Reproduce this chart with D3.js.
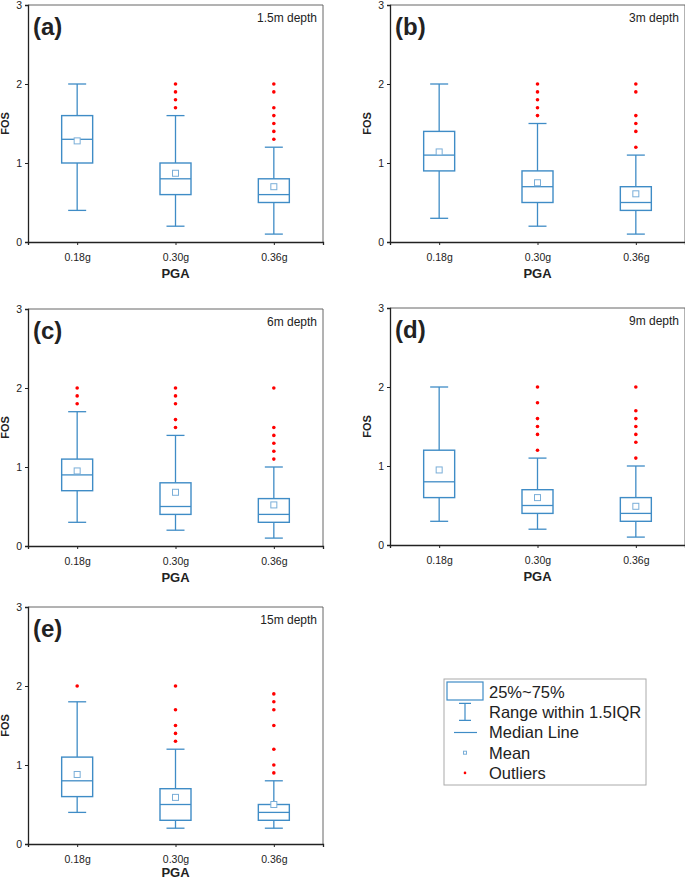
<!DOCTYPE html>
<html lang="en">
<head>
    <meta charset="UTF-8">
    <title>FOS box plots by PGA and depth</title>
    <script src="https://d3js.org/d3.v7.min.js"></script>
    <style>
        body { margin: 0; background: #fff; }
        text { font-family: Arial, "Liberation Sans", sans-serif; fill: #222; }
    </style>
</head>
<body>
<svg height="881" width="685"></svg>

<script>
    const categories = ["0.18g", "0.30g", "0.36g"];
    const panelLabels = ["(a)", "(b)", "(c)", "(d)", "(e)"];
    const depths = ["1.5m depth", "3m depth", "6m depth", "9m depth", "15m depth"];
    const yTicks = [0, 1, 2, 3];

    // one row per panel, one value per PGA
    const whiskerLow  = [[0.4, 0.2, 0.1], [0.3, 0.2, 0.1], [0.3, 0.2, 0.1], [0.3, 0.2, 0.1], [0.4, 0.2, 0.2]];
    const q1          = [[1.0, 0.6, 0.5], [0.9, 0.5, 0.4], [0.7, 0.4, 0.3], [0.6, 0.4, 0.3], [0.6, 0.3, 0.3]];
    const median      = [[1.3, 0.8, 0.6], [1.1, 0.7, 0.5], [0.9, 0.5, 0.4], [0.8, 0.5, 0.4], [0.8, 0.5, 0.4]];
    const q3          = [[1.6, 1.0, 0.8], [1.4, 0.9, 0.7], [1.1, 0.8, 0.6], [1.2, 0.7, 0.6], [1.1, 0.7, 0.5]];
    const whiskerHigh = [[2.0, 1.6, 1.2], [2.0, 1.5, 1.1], [1.7, 1.4, 1.0], [2.0, 1.1, 1.0], [1.8, 1.2, 0.8]];
    const mean        = [[1.28, 0.87, 0.70], [1.14, 0.75, 0.61], [0.95, 0.68, 0.52], [0.95, 0.60, 0.49], [0.88, 0.59, 0.50]];
    const outliers = [
        [[], [1.7, 1.8, 1.9, 2.0], [1.3, 1.4, 1.5, 1.6, 1.7, 1.9, 2.0]],
        [[], [1.6, 1.7, 1.8, 1.9, 2.0], [1.2, 1.4, 1.5, 1.6, 1.9, 2.0]],
        [[1.8, 1.9, 2.0], [1.5, 1.6, 1.8, 1.9, 2.0], [1.1, 1.2, 1.3, 1.4, 1.5, 2.0]],
        [[], [1.2, 1.4, 1.5, 1.6, 1.8, 2.0], [1.1, 1.3, 1.4, 1.5, 1.6, 1.7, 2.0]],
        [[2.0], [1.3, 1.4, 1.5, 1.7, 2.0], [0.9, 1.0, 1.2, 1.5, 1.7, 1.8, 1.9]]
    ];

    const legendLabels = ["25%~75%", "Range within 1.5IQR", "Median Line", "Mean", "Outliers"];

    // panel placement (left edge of axis, top of plot)
    const frames = [
        {x: 28, y: 5}, {x: 390, y: 5},
        {x: 28, y: 309}, {x: 390, y: 308},
        {x: 28, y: 607}
    ];
    const plotW = 295, plotH = 237;
    const pageH = 881;

    const blue = "#3f8cc6";
    const svg = d3.select("svg");

    frames.forEach(function(f, p) {
        const g = svg.append("g").attr("transform", `translate(${f.x},${f.y})`);

        const x = d3.scalePoint().domain(categories).range([0, plotW]).padding(0.5);
        const y = d3.scaleLinear().domain([0, 3]).range([plotH, 0]);

        // frame top/right
        g.append("path")
            .attr("d", `M0,0H${plotW}V${plotH}`)
            .attr("fill", "none").attr("stroke", "#666").attr("stroke-width", 1);

        const yAxis = g.append("g")
            .call(d3.axisLeft(y).tickValues(yTicks).tickFormat(d3.format("d")).tickSizeOuter(0).tickSize(3));
        const xAxis = g.append("g").attr("transform", `translate(0,${plotH})`)
            .call(d3.axisBottom(x).tickSizeOuter(0).tickSize(3));
        [yAxis, xAxis].forEach(a => {
            a.select(".domain").attr("stroke", "#222").attr("stroke-width", 1.3);
            a.selectAll(".tick line").attr("stroke", "#222");
            a.selectAll("text").style("font-family", "Arial, 'Liberation Sans', sans-serif")
                .style("font-size", "10.5px").attr("fill", "#222");
        });
        xAxis.selectAll("text").attr("dy", "1.2em");

        const bw = 31, cap = 18;
        categories.forEach(function(c, i) {
            const cx = x(c);
            // whiskers
            g.append("line").attr("x1", cx).attr("x2", cx)
                .attr("y1", y(whiskerHigh[p][i])).attr("y2", y(q3[p][i]))
                .attr("stroke", blue).attr("stroke-width", 1.3);
            g.append("line").attr("x1", cx).attr("x2", cx)
                .attr("y1", y(q1[p][i])).attr("y2", y(whiskerLow[p][i]))
                .attr("stroke", blue).attr("stroke-width", 1.3);
            [whiskerHigh[p][i], whiskerLow[p][i]].forEach(v => {
                g.append("line").attr("x1", cx - cap / 2).attr("x2", cx + cap / 2)
                    .attr("y1", y(v)).attr("y2", y(v))
                    .attr("stroke", blue).attr("stroke-width", 1.3);
            });
            // box
            g.append("rect")
                .attr("x", cx - bw / 2).attr("y", y(q3[p][i]))
                .attr("width", bw).attr("height", y(q1[p][i]) - y(q3[p][i]))
                .attr("fill", "none").attr("stroke", blue).attr("stroke-width", 1.4);
            g.append("line").attr("x1", cx - bw / 2).attr("x2", cx + bw / 2)
                .attr("y1", y(median[p][i])).attr("y2", y(median[p][i]))
                .attr("stroke", blue).attr("stroke-width", 1.3);
            // mean
            g.append("rect")
                .attr("x", cx - 3).attr("y", y(mean[p][i]) - 3)
                .attr("width", 6).attr("height", 6)
                .attr("fill", "#fff").attr("stroke", "#7aaed8").attr("stroke-width", 1);
            // outliers
            g.selectAll(null).data(outliers[p][i]).enter()
                .append("circle")
                .attr("cx", cx).attr("cy", d => y(d)).attr("r", 1.8)
                .attr("fill", "#ff0000");
        });

        g.append("text").attr("x", 5).attr("y", 30)
            .style("font-size", "24px").style("font-weight", "bold").attr("fill", "#000")
            .text(panelLabels[p]);
        g.append("text").attr("x", plotW - 6).attr("y", 17)
            .attr("text-anchor", "end").style("font-size", "12px")
            .text(depths[p]);
        // keep the last x title inside the page
        const titleY = Math.min(plotH + 36, pageH - f.y - 4);
        g.append("text").attr("x", plotW / 2).attr("y", titleY)
            .attr("text-anchor", "middle").style("font-size", "13px").style("font-weight", "bold")
            .text("PGA");
        g.append("text")
            .attr("transform", `translate(-19,${plotH / 2}) rotate(-90)`)
            .attr("text-anchor", "middle").style("font-size", "11px").style("font-weight", "bold")
            .text("FOS");
    });

    // legend
    const lg = svg.append("g").attr("transform", "translate(444,679)");
    lg.append("rect").attr("x", 0).attr("y", 0).attr("width", 202).attr("height", 106)
        .attr("fill", "#fff").attr("stroke", "#aaa").attr("stroke-width", 1);
    const rowY = d3.scaleBand().domain(legendLabels).range([3, 104]);
    legendLabels.forEach(function(lbl, k) {
        const cy = rowY(lbl) + rowY.bandwidth() / 2;
        lg.append("text").attr("x", 45).attr("y", cy).attr("dy", "0.36em")
            .style("font-size", "16.5px").attr("fill", "#111").text(lbl);
        const ic = 21;
        if (k === 0) {
            lg.append("rect").attr("x", 3).attr("y", 3).attr("width", 36).attr("height", 18)
                .attr("fill", "none").attr("stroke", blue).attr("stroke-width", 1.2);
        } else if (k === 1) {
            lg.append("path").attr("d", `M${ic - 6},${cy - 9}H${ic + 6}M${ic},${cy - 9}V${cy + 8}M${ic - 6},${cy + 8}H${ic + 6}`)
                .attr("fill", "none").attr("stroke", blue).attr("stroke-width", 1.2);
        } else if (k === 2) {
            lg.append("line").attr("x1", ic - 11).attr("x2", ic + 12).attr("y1", cy).attr("y2", cy)
                .attr("stroke", blue).attr("stroke-width", 1.2);
        } else if (k === 3) {
            lg.append("rect").attr("x", ic - 1.5).attr("y", cy - 1.5).attr("width", 3).attr("height", 3)
                .attr("fill", "#fff").attr("stroke", "#7aaed8").attr("stroke-width", 1);
        } else {
            lg.append("circle").attr("cx", ic).attr("cy", cy).attr("r", 1.3).attr("fill", "#ff0000");
        }
    });
</script>

</body>
</html>
